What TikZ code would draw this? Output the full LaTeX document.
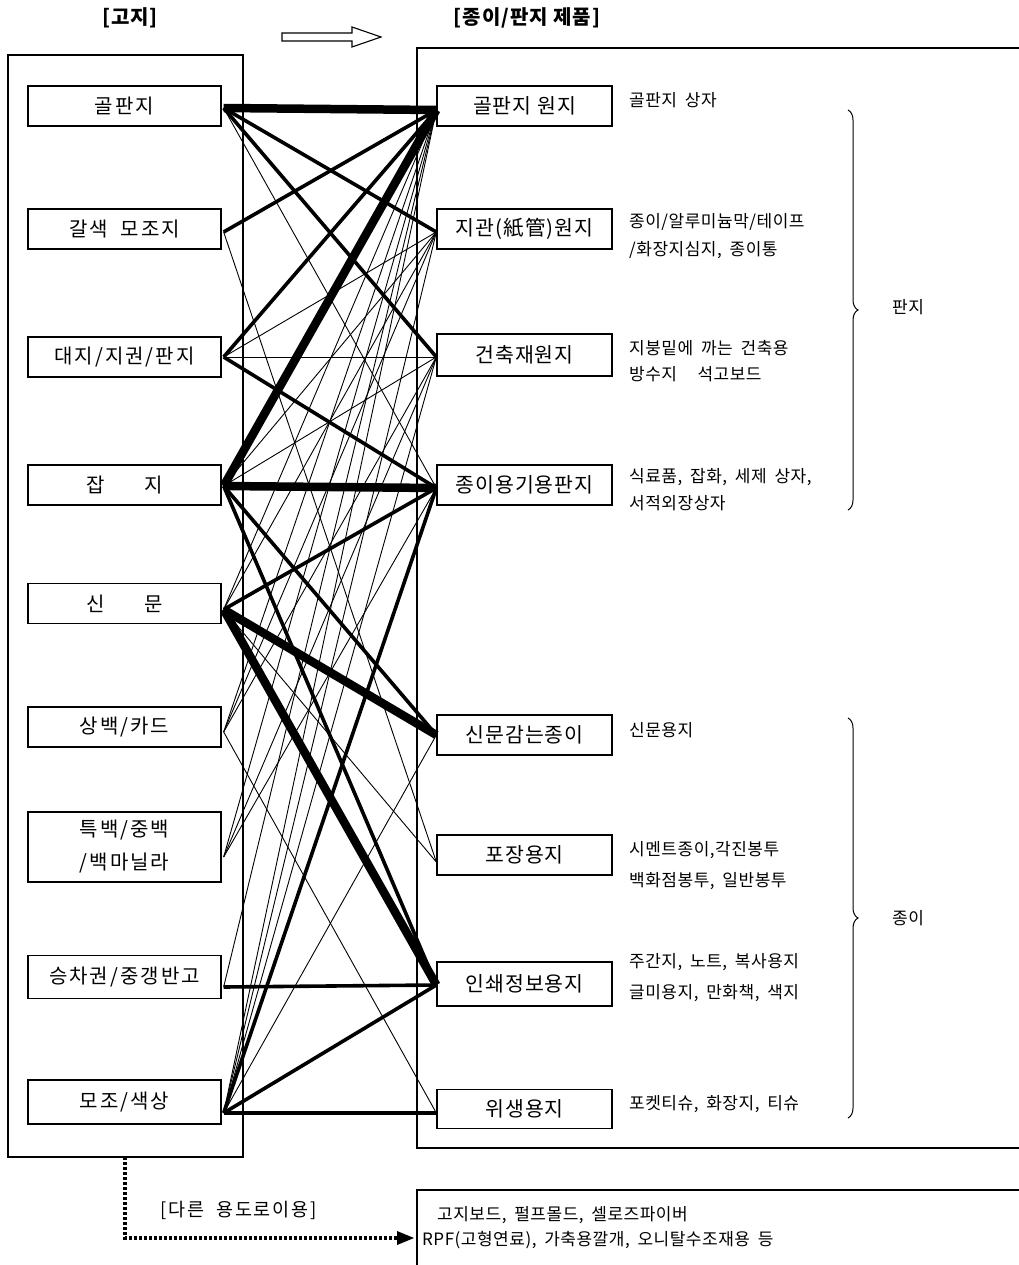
\documentclass[tikz,border=0pt]{standalone}
\usepackage{fontspec}
\setmainfont{Noto Sans CJK KR}
\newfontfamily\srcfont[LetterSpace=10,WordSpace=2]{Noto Sans CJK KR}
\newfontfamily\dstfont[LetterSpace=5]{Noto Sans CJK KR}
\newfontfamily\notefont[LetterSpace=3,WordSpace=1.8]{Noto Sans CJK KR}
\usetikzlibrary{decorations.pathreplacing,arrows.meta}

\begin{document}
\begin{tikzpicture}[x=1pt,y=-1pt,
  frame/.style={draw,line width=1.2pt},
  srcbox/.style={draw,line width=1.3pt,minimum width=193pt,minimum height=40pt,inner sep=0pt,
    font=\srcfont\fontsize{20}{33}\selectfont,align=center},
  dstbox/.style={draw,line width=1.3pt,minimum width=175pt,minimum height=40pt,inner sep=0pt,
    font=\dstfont\fontsize{20.5}{24}\selectfont},
  note/.style={anchor=west,inner sep=0pt,font=\notefont\fontsize{17}{20}\selectfont},
  title/.style={inner sep=0pt,font=\dstfont\fontsize{20}{24}\selectfont\bfseries},
  flowheavy/.style={line width=8.5pt},
  flowmid/.style={line width=3.6pt},
  flowthin/.style={line width=0.9pt},
  bracket/.style={decorate,decoration={brace,amplitude=10pt},line width=1pt},
]
\useasboundingbox (0,0) rectangle (1018,1265);

% headings
\node[title] (tl) at (130,18) {[고지]};
\node[title] (tr) at (527,18) {[종이/판지 제품]};
\draw[line width=1.1pt] (282,33) -- (352,33) -- (352,27) -- (381,37) -- (352,47) -- (352,41) -- (282,41) -- cycle;

% outer frames
\draw[frame] (8,55) rectangle (243,1157);
\draw[frame] (1030,48) -- (417,48) -- (417,1148) -- (1030,1148);

% waste paper grades
\node[srcbox] (l1) at (124.5,106) {골판지};
\node[srcbox] (l2) at (124.5,229) {갈색 모조지};
\node[srcbox] (l3) at (124.5,357) {대지/지권/판지};
\node[srcbox] (l4) at (124.5,485) {잡\hspace{2em}지};
\node[srcbox] (l5) at (124.5,603.5) {신\hspace{2em}문};
\node[srcbox] (l6) at (124.5,727) {상백/카드};
\node[srcbox,minimum height=70pt] (l7) at (124.5,847) {특백/중백\\/백마닐라};
\node[srcbox,minimum height=43pt] (l8) at (124.5,977) {승차권/중갱반고};
\node[srcbox,minimum height=44pt] (l9) at (124.5,1102) {모조/색상};

% paper and board products
\node[dstbox] (r1) at (524.5,106) {골판지 원지};
\node[dstbox] (r2) at (524.5,229) {지관(紙管)원지};
\node[dstbox,minimum height=42pt] (r3) at (524.5,355) {건축재원지};
\node[dstbox] (r4) at (524.5,485) {종이용기용판지};
\node[dstbox] (r5) at (524.5,735) {신문감는종이};
\node[dstbox] (r6) at (524.5,855) {포장용지};
\node[dstbox,minimum height=44pt] (r7) at (524.5,984) {인쇄정보용지};
\node[dstbox,minimum height=39pt] (r8) at (524.5,1109) {위생용지};

% attachment points of the flow lines
\coordinate (a1) at ([shift={(2,2)}]l1.east);
\coordinate (a2) at ([shift={(2,3)}]l2.east);
\coordinate (a3) at ([shift={(2,0)}]l3.east);
\coordinate (a4) at ([shift={(2,1)}]l4.east);
\coordinate (a5) at ([shift={(2,6)}]l5.east);
\coordinate (a6) at ([shift={(2,5)}]l6.east);
\coordinate (a7) at ([shift={(2,10)}]l7.east);
\coordinate (a8) at ([shift={(2,10)}]l8.east);
\coordinate (a9) at ([shift={(2,11)}]l9.east);
\coordinate (b1) at ([shift={(0,4)}]r1.west);
\coordinate (b2) at ([shift={(0,3)}]r2.west);
\coordinate (b3) at ([shift={(0,2)}]r3.west);
\coordinate (b4) at ([shift={(0,3)}]r4.west);
\coordinate (b5) at ([shift={(0,0)}]r5.west);
\coordinate (b6) at ([shift={(0,7)}]r6.west);
\coordinate (b7) at ([shift={(0,1)}]r7.west);
\coordinate (b8) at ([shift={(0,4)}]r8.west);

% minor flows
\foreach \s/\t in {a1/b4, a2/b6, a3/b2, a3/b3, a4/b2, a4/b3,
                   a5/b1, a5/b2, a5/b6, a6/b1, a6/b2, a6/b3, a6/b8,
                   a7/b1, a7/b3, a7/b4, a8/b1,
                   a9/b1, a9/b2, a9/b3, a9/b5}
  \draw[flowthin] (\s) -- (\t);
% medium flows
\foreach \s/\t in {a1/b2, a1/b3, a2/b1, a3/b1, a3/b4, a4/b5, a4/b7,
                   a5/b4, a8/b7, a9/b8, a9/b7, a9/b4}
  \draw[flowmid] (\s) -- (\t);
% main flows
\foreach \s/\t in {a1/b1, a4/b1, a4/b4, a5/b5, a5/b7}
  \draw[flowheavy] (\s) -- (\t);

% product examples
\node[note] (n1) at (629,100) {골판지 상자};
\node[note] (n2a) at (629,222) {종이/알루미늄막/테이프};
\node[note] (n2b) at (629,250) {/화장지심지, 종이통};
\node[note] (n3a) at (629,348) {지붕밑에 까는 건축용};
\node[note] (n3b) at (629,374) {방수지\hspace{1.2em}석고보드};
\node[note] (n4a) at (629,477) {식료품, 잡화, 세제 상자,};
\node[note] (n4b) at (629,503) {서적외장상자};
\node[note] (n5) at (629,730) {신문용지};
\node[note] (n6a) at (629,850) {시멘트종이,각진봉투};
\node[note] (n6b) at (629,881) {백화점봉투, 일반봉투};
\node[note] (n7a) at (629,962) {주간지, 노트, 복사용지};
\node[note] (n7b) at (629,993) {글미용지, 만화책, 색지};
\node[note] (n8) at (629,1104) {포켓티슈, 화장지, 티슈};

% groups
\draw[bracket] (848,110) -- (848,510);
\node[note] (g1) at (892,307) {판지};
\draw[bracket] (848,718) -- (848,1118);
\node[note] (g2) at (892,918) {종이};

% other uses
\node[note,font=\srcfont\fontsize{18.5}{22}\selectfont] (ou) at (160,1210) {[다른 용도로이용]};
\draw[frame] (1030,1190) -- (417,1190) -- (417,1280);
\node[note] (o1) at (437,1215) {고지보드, 펄프몰드, 셀로즈파이버};
\node[note] (o2) at (422,1240) {RPF(고형연료), 가축용깔개, 오니탈수조재용 등};
\coordinate (od) at (125,1157);
\coordinate (oc) at (125,1238);
\coordinate (oe) at (414,1238);
\draw[line width=3.5pt,dash pattern=on 3pt off 2pt] (od) -- (oc) -- ([xshift=-14pt]oe);
\fill (oe) -- ++(-17,-7) -- ++(0,14) -- cycle;
\end{tikzpicture}
\end{document}
